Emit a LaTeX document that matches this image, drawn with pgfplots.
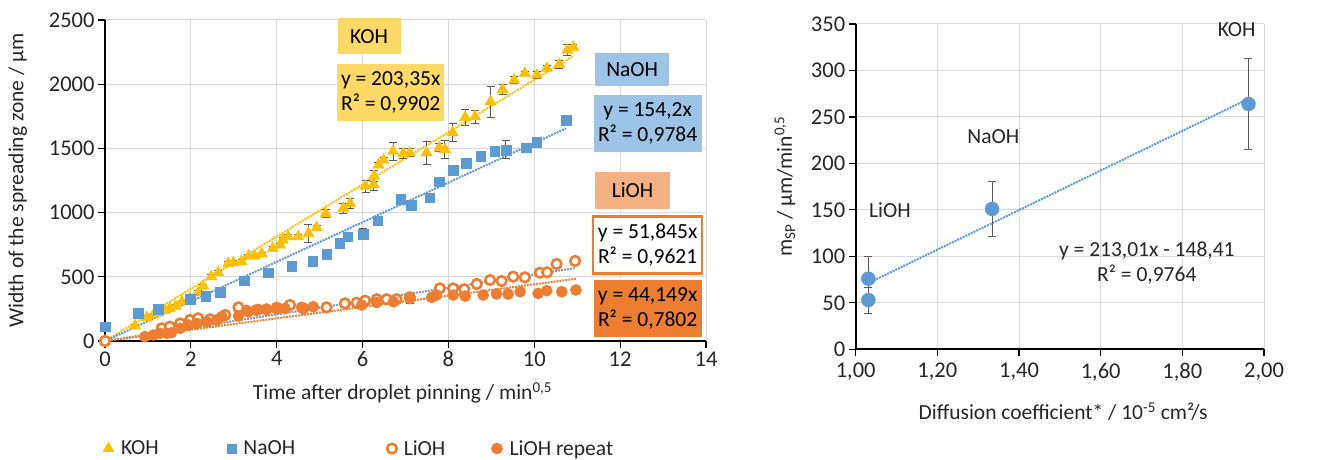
\documentclass[border=0pt]{standalone}
\usepackage{pgfplots}
\pgfplotsset{compat=1.18}
\usepackage{fontspec}
\setmainfont{Carlito}
\definecolor{koh}{HTML}{FFC000}
\definecolor{naoh}{HTML}{5B9BD5}
\definecolor{lioh}{HTML}{ED7D31}
\definecolor{kohbox}{HTML}{FFD966}
\definecolor{naohbox}{HTML}{9DC3E6}
\definecolor{liohbox}{HTML}{F4B183}
\definecolor{gridc}{HTML}{D9D9D9}
\definecolor{errc}{HTML}{595959}
\definecolor{liohtrend}{HTML}{8497B0}
\definecolor{txt}{HTML}{262626}

\pgfplotstableread{
x y e
0 0 0
0.70 119 10
0.97 182 10
1.13 203 10
1.24 220 10
1.40 241 10
1.51 254 10
1.65 272 10
1.79 306 10
1.98 332 10
2.17 376 15
2.29 428 15
2.48 501 15
2.64 532 15
2.87 605 15
2.99 610 15
3.18 618 15
3.34 662 15
3.49 662 15
3.65 678 15
3.91 722 15
4.08 748 15
4.14 787 20
4.27 812 20
4.50 812 15
4.74 838 70
4.93 883 15
5.14 992 30
5.55 1033 40
5.71 1072 40
6.07 1205 45
6.26 1218 45
6.27 1285 40
6.37 1371 20
6.49 1410 20
6.71 1478 70
6.95 1461 40
7.10 1466 30
7.49 1466 90
7.79 1505 30
7.92 1492 70
8.10 1623 70
8.39 1742 60
8.62 1747 50
8.98 1864 120
9.26 1960 40
9.53 2033 30
9.78 2085 15
10.06 2072 30
10.29 2124 20
10.58 2155 30
10.77 2266 40
10.91 2287 20
}\kohdata

\pgfplotstableread{
x y e
0 110 5
0.78 216 5
1.24 247 5
1.98 325 5
2.35 350 5
2.69 379 5
3.24 470 5
3.80 532 5
4.35 584 5
4.84 623 5
5.16 675 5
5.47 760 5
5.65 812 5
6.02 833 40
6.35 937 5
6.89 1106 5
7.13 1059 5
7.56 1116 5
7.79 1241 5
8.11 1332 5
8.41 1383 5
8.75 1441 5
9.08 1480 5
9.34 1488 70
9.81 1505 5
10.06 1546 40
10.74 1721 35
}\naohdata

\pgfplotstableread{
x y e
0 0 0
1.32 99 5
1.51 112 5
1.75 137 5
1.98 164 5
2.17 177 5
2.45 169 5
2.80 203 5
3.11 262 5
3.30 236 5
3.53 241 5
3.76 246 5
4.00 254 5
4.31 280 5
4.62 254 5
5.16 262 5
5.59 293 5
5.86 298 5
6.06 314 5
6.33 325 5
6.56 325 5
6.79 325 5
7.10 340 5
7.80 410 25
8.11 410 5
8.37 403 5
8.66 444 5
8.97 475 20
9.24 467 5
9.51 501 5
9.78 496 5
10.13 532 5
10.30 535 5
10.52 600 10
10.95 623 15
}\liohdata

\pgfplotstableread{
x y e
0.93 34 5
1.13 47 5
1.28 60 5
1.44 60 5
1.55 65 5
1.75 99 5
1.94 125 5
2.14 137 5
2.37 150 5
2.60 164 5
2.72 190 5
3.11 195 5
3.34 228 5
3.57 246 5
3.76 246 5
4.00 262 5
4.19 254 5
4.58 262 5
4.85 267 5
5.98 280 10
6.33 300 10
6.72 306 5
7.10 330 35
7.61 340 15
7.72 358 5
8.11 358 5
8.39 350 5
8.81 358 5
9.12 366 5
9.39 366 15
9.67 384 25
10.09 371 5
10.29 392 20
10.64 384 5
10.97 397 5
}\repeatdata

\pgfplotstableread{
x y e
1.031 76 24
1.031 53 14
1.334 151 30
1.962 264 49
}\diffdata

\pgfplotsset{
  /pgf/number format/assume math mode=true,
  /pgf/number format/1000 sep={},
  myaxis/.style={
    scale only axis,
    axis lines=left,
    axis line style={-, black, line width=1.6bp},
    grid=major,
    grid style={gridc, line width=1bp},
    tick align=outside,
    major tick length=7bp,
    tick style={black, line width=1.2bp},
    ticklabel style={text=txt, font=\fontsize{22.5bp}{26bp}\selectfont},
    label style={text=txt},
    clip=false,
  },
  ebars/.style={
    error bars/.cd, y dir=both, y explicit,
    error bar style={errc, line width=1bp},
    error mark options={errc, rotate=90, mark size=4bp, line width=1bp},
  },
}

\begin{document}
\begin{tikzpicture}[font=\fontsize{21.5bp}{25.5bp}\selectfont]
\useasboundingbox[fill=white] (0,0) rectangle (1324bp,460bp);

% ---------- left chart ----------
\begin{axis}[myaxis,
  at={(105bp,119bp)}, anchor=south west,
  width=601bp, height=321bp,
  xmin=0, xmax=14, ymin=0, ymax=2500,
  xtick={0,2,...,14}, ytick={0,500,...,2500},
  xlabel={Time after droplet pinning / min\textsuperscript{0,5}},
  ylabel={Width of the spreading zone / µm},
  xlabel style={at={(axis description cs:0.495,-0.162)}, anchor=center},
  ylabel style={at={(axis description cs:-0.145,0.5)}, anchor=center, rotate=0},
  legend style={at={(axis description cs:-0.009,-0.335)}, anchor=west,
    draw=none, fill=none, legend columns=4, text=txt,
    /tikz/every odd column/.style={column sep=5bp},
    /tikz/column 2/.style={column sep=66bp},
    /tikz/column 4/.style={column sep=90bp},
    /tikz/column 6/.style={column sep=44bp},
  },
  legend cell align=left,
]
% trend lines
\addplot[koh, densely dotted, line width=2bp, forget plot] coordinates {(0,0) (10.91,2218.5)};
\addplot[naoh, densely dotted, line width=2bp, forget plot] coordinates {(0,0) (10.74,1656.1)};
\addplot[liohtrend, densely dotted, line width=2bp, forget plot] coordinates {(0,0) (10.95,567.7)};
\addplot[lioh, densely dotted, line width=2bp, forget plot] coordinates {(0,0) (10.97,484.3)};

\addplot[only marks, mark=triangle*, mark size=6.5bp, color=koh, ebars]
  table[x=x, y=y, y error=e] {\kohdata};
\addlegendentry{KOH}
\addplot[only marks, mark=square*, mark size=4.8bp, color=naoh, ebars]
  table[x=x, y=y, y error=e] {\naohdata};
\addlegendentry{NaOH}
\addplot[only marks, mark=*, mark size=4.8bp, color=lioh,
  mark options={fill=white, draw=lioh, line width=2.6bp}, ebars]
  table[x=x, y=y, y error=e] {\liohdata};
\addlegendentry{LiOH}
\addplot[only marks, mark=*, mark size=5.6bp, color=lioh, ebars]
  table[x=x, y=y, y error=e] {\repeatdata};
\addlegendentry{LiOH repeat}

% boxes
\node[fill=kohbox, minimum width=63bp, minimum height=36bp, inner sep=2bp, text=black]
  at (axis cs:6.15,2373) {KOH};
\node[fill=kohbox, minimum width=107bp, minimum height=57bp, inner sep=2bp, align=center, text=black]
  at (axis cs:6.655,1937) {y = 203,35x\\R² = 0,9902};
\node[fill=naohbox, minimum width=74bp, minimum height=33bp, inner sep=2bp, text=black]
  at (axis cs:12.28,2116) {NaOH};
\node[fill=naohbox, minimum width=108bp, minimum height=57bp, inner sep=2bp, align=center, text=black]
  at (axis cs:12.64,1695) {y = 154,2x\\R² = 0,9784};
\node[fill=liohbox, minimum width=75bp, minimum height=37bp, inner sep=2bp, text=black]
  at (axis cs:12.29,1171) {LiOH};
\node[fill=white, draw=lioh, line width=2.5bp, minimum width=109bp, minimum height=57bp, inner sep=2bp, align=center, text=black]
  at (axis cs:12.64,748) {y = 51,845x\\R² = 0,9621};
\node[fill=lioh, minimum width=108bp, minimum height=57bp, inner sep=2bp, align=center, text=black]
  at (axis cs:12.64,252) {y = 44,149x\\R² = 0,7802};
\end{axis}

% ---------- right chart ----------
\begin{axis}[myaxis,
  at={(855.7bp,110.7bp)}, anchor=south west,
  width=408.3bp, height=325.3bp,
  xmin=1, xmax=2, ymin=0, ymax=350,
  xtick={1,1.2,...,2.01}, ytick={0,50,...,350},
  xticklabel style={yshift=-3bp, /pgf/number format/.cd, fixed, fixed zerofill, precision=2, use comma},
  xlabel={Diffusion coefficient* / 10\textsuperscript{-5} cm²/s},
  ylabel={m\textsubscript{SP} / µm/min\textsuperscript{0,5}},
  xlabel style={at={(axis description cs:0.508,-0.192)}, anchor=center},
  ylabel style={at={(axis description cs:-0.173,0.5)}, anchor=center},
]
\addplot[naoh, densely dotted, line width=2bp] coordinates {(1.031,71.2) (1.962,269.5)};
\addplot[only marks, mark=*, mark size=7bp, color=naoh, ebars]
  table[x=x, y=y, y error=e] {\diffdata};
\node[text=txt] at (axis cs:1.933,344) {KOH};
\node[text=txt] at (axis cs:1.337,229) {NaOH};
\node[text=txt] at (axis cs:1.084,150) {LiOH};
\node[text=txt, align=center] at (axis cs:1.713,93) {y = 213,01x - 148,41\\R² = 0,9764};
\end{axis}
\end{tikzpicture}
\end{document}
